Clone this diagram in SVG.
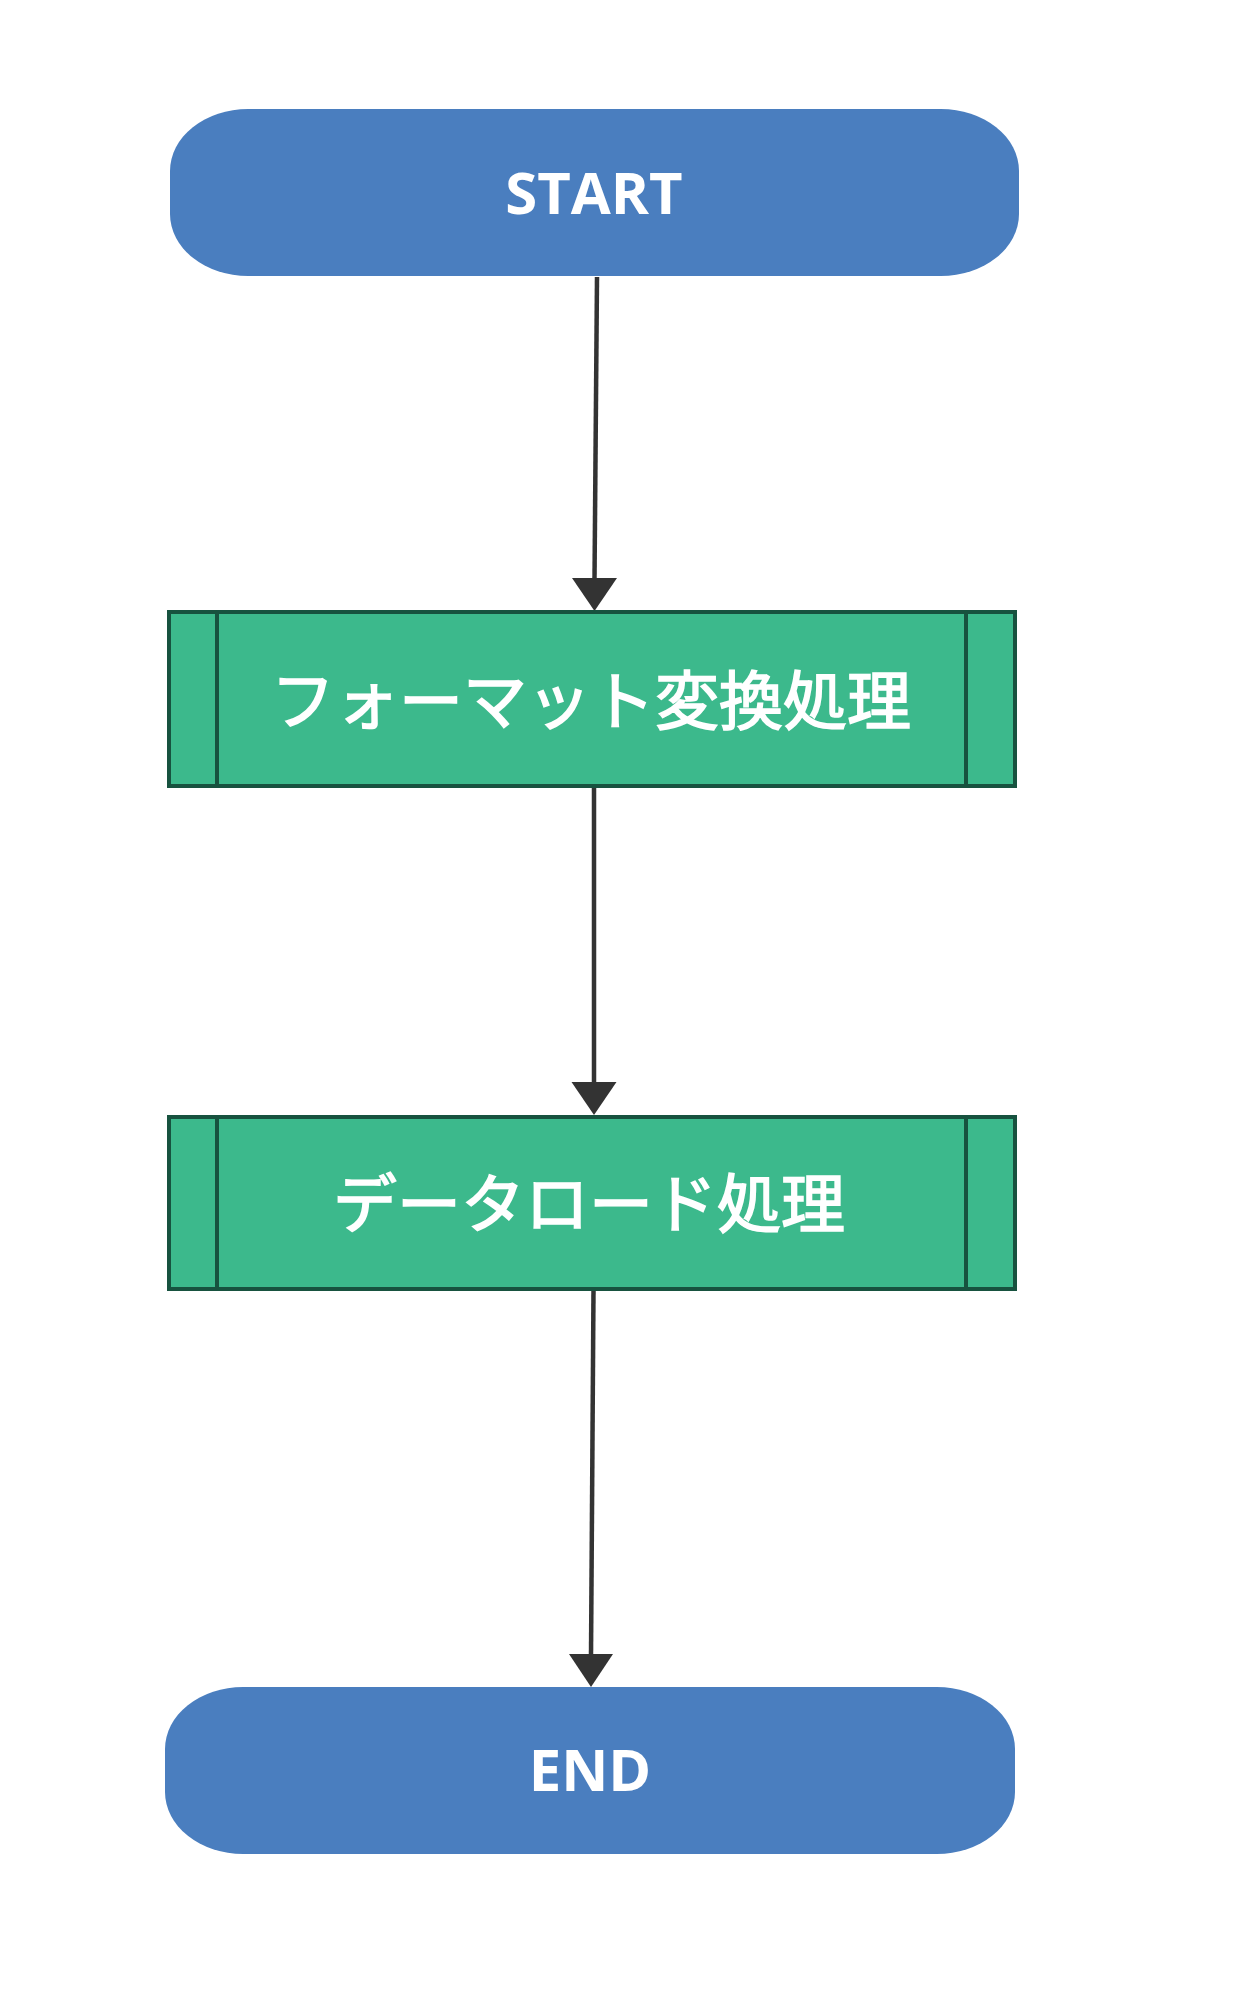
<svg xmlns="http://www.w3.org/2000/svg" width="1256" height="2000" viewBox="0 0 1256 2000">
  <style>
    .term { fill: #4a7ebf; }
    .proc { fill: #3cb98c; stroke: #17523f; stroke-width: 4; }
    .bar { stroke: #17523f; stroke-width: 4; fill: none; }
    .lbl-en { font-family: "Open Sans", "Noto Sans", sans-serif; font-weight: bold; font-size: 58px; fill: #ffffff; text-anchor: middle; }
    .lbl-jp { font-family: "Noto Sans CJK JP", "Noto Sans", sans-serif; font-weight: normal; font-size: 64px; fill: #ffffff; stroke: #ffffff; stroke-width: 1.6; text-anchor: middle; }
    .conn { stroke: #333333; stroke-width: 4.5; fill: none; }
    .head { fill: #333333; }
  </style>
  <rect x="0" y="0" width="1256" height="2000" fill="#ffffff"/>
  <g id="connectors">
    <line class="conn" x1="597" y1="277" x2="594.5" y2="580"/>
    <path class="head" d="M572,578 L617,578 L594.5,611 Z"/>
    <line class="conn" x1="594" y1="787" x2="594" y2="1084"/>
    <path class="head" d="M571.5,1082 L616.5,1082 L594,1115 Z"/>
    <line class="conn" x1="593.5" y1="1290" x2="591" y2="1656"/>
    <path class="head" d="M569,1654 L613,1654 L591,1687 Z"/>
  </g>
  <g id="start">
    <rect class="term" x="170" y="109" width="849" height="167" rx="78" ry="62"/>
    <text class="lbl-en" x="594" y="214">START</text>
  </g>
  <g id="format">
    <rect class="proc" x="169" y="612" width="846" height="174"/>
    <line class="bar" x1="217" y1="612" x2="217" y2="786"/>
    <line class="bar" x1="966" y1="612" x2="966" y2="786"/>
    <text class="lbl-jp" x="591" y="724">フォーマット変換処理</text>
  </g>
  <g id="load">
    <rect class="proc" x="169" y="1117" width="846" height="172"/>
    <line class="bar" x1="217" y1="1117" x2="217" y2="1289"/>
    <line class="bar" x1="966" y1="1117" x2="966" y2="1289"/>
    <text class="lbl-jp" x="589" y="1227">データロード処理</text>
  </g>
  <g id="end">
    <rect class="term" x="165" y="1687" width="850" height="167" rx="78" ry="62"/>
    <text class="lbl-en" x="590" y="1791">END</text>
  </g>
</svg>
